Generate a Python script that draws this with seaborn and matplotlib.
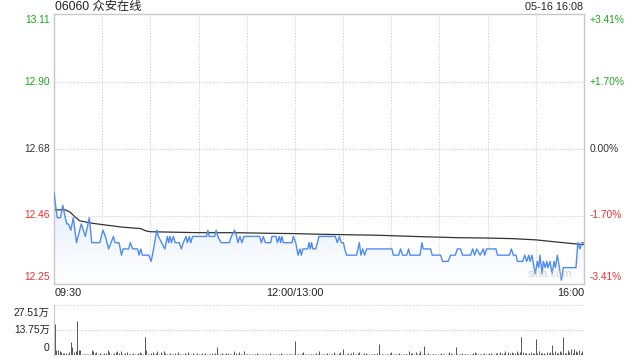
import numpy as np
import matplotlib
matplotlib.use("Agg")
import matplotlib.pyplot as plt
import seaborn as sns
from matplotlib.colors import LinearSegmentedColormap

# --------------------------------------------------------------
# Data
# --------------------------------------------------------------
title_left = "06060 众安在线"
title_right = "05-16 16:08"
prev_close = 12.68
pct_levels = [3.41, 1.70, 0.0, -1.70, -3.41]
price_labels = ["13.11", "12.90", "12.68", "12.46", "12.25"]
pct_labels = ["+3.41%", "+1.70%", "0.00%", "-1.70%", "-3.41%"]
label_colors = ["#1ba81b", "#1ba81b", "#333333", "#f23030", "#f23030"]
time_labels = ["09:30", "12:00/13:00", "16:00"]
time_label_pos = [0, 150, 330]
vol_ticks = [27.51, 13.75, 0]
vol_labels = ["27.51万", "13.75万", "0"]

# minutes since 09:30 (lunch break removed) / price
price_t = [0, 2, 4, 5.5, 7, 8, 9, 10.5, 12, 14, 17, 19.5, 22, 23.5, 28.5, 30.5,
           32, 34, 35.5, 37, 38, 40.5, 42, 43, 46.5, 47.5, 49, 52, 53, 54, 55,
           59, 60.5, 62, 64, 65, 67, 69, 70.6, 71.4, 72.2, 73.1, 74.3, 75.5, 78,
           79.3, 80.5, 82.2, 83, 84.3, 85.1, 86.3, 95, 95.8, 96.6, 100, 101, 102,
           104, 109.2, 110.4, 112.5, 113.7, 114.5, 115.8, 117, 118.3, 128, 129.1,
           130.3, 131.6, 134.9, 135.7, 138.2, 139.1, 140.3, 141.1, 141.9, 142.8,
           148.2, 149, 150.5, 152, 153.2, 154, 155, 158, 158.8, 159.6, 160.4,
           161.2, 163, 165, 175.2, 176.4, 177.7, 178.9, 180.2, 181, 182.2, 188.4,
           190.1, 191.1, 192.2, 193.4, 194.7, 210.4, 211.3, 214.6, 215.8, 217.1,
           219.6, 220.8, 221.7, 227.9, 229.1, 229.9, 234.5, 235.5, 240.7, 242,
           245.3, 247, 249.9, 251.1, 253.2, 254.4, 259.4, 260.7, 261.9, 263.2,
           265.3, 267.3, 268.1, 269.4, 275.2, 276.1, 283.5, 284.8, 286, 287.7,
           288.5, 291.8, 293.1, 294.3, 295.6, 296.4, 297.6, 298.9, 299.7, 300.9,
           301.8, 302.6, 303.9, 304.7, 305.9, 306.8, 307.6, 308.9, 310.1, 311.4,
           312.2, 313.4, 314.7, 315.9, 317.1, 325, 326.2, 327.5, 328.7, 330]
price = [12.54, 12.46, 12.46, 12.50, 12.46, 12.44, 12.44, 12.42, 12.46, 12.38,
         12.44, 12.40, 12.46, 12.38, 12.38, 12.42, 12.40, 12.36, 12.38, 12.40,
         12.38, 12.38, 12.34, 12.36, 12.36, 12.38, 12.36, 12.36, 12.34, 12.36,
         12.34, 12.34, 12.32, 12.36, 12.42, 12.40, 12.38, 12.36, 12.40, 12.38,
         12.40, 12.38, 12.40, 12.38, 12.38, 12.36, 12.38, 12.40, 12.38, 12.40,
         12.38, 12.40, 12.40, 12.42, 12.40, 12.40, 12.42, 12.40, 12.38, 12.38,
         12.40, 12.42, 12.40, 12.38, 12.40, 12.38, 12.40, 12.40, 12.38, 12.40,
         12.38, 12.38, 12.40, 12.40, 12.38, 12.40, 12.38, 12.40, 12.38, 12.38,
         12.40, 12.38, 12.34, 12.36, 12.34, 12.36, 12.36, 12.38, 12.36, 12.38,
         12.36, 12.36, 12.40, 12.40, 12.38, 12.40, 12.38, 12.38, 12.36, 12.34,
         12.34, 12.38, 12.34, 12.36, 12.34, 12.36, 12.36, 12.34, 12.34, 12.36,
         12.34, 12.34, 12.36, 12.34, 12.34, 12.38, 12.36, 12.36, 12.34, 12.34,
         12.32, 12.32, 12.34, 12.34, 12.36, 12.36, 12.34, 12.34, 12.36, 12.34,
         12.36, 12.34, 12.36, 12.34, 12.36, 12.36, 12.34, 12.34, 12.36, 12.34,
         12.34, 12.32, 12.32, 12.34, 12.32, 12.34, 12.32, 12.34, 12.30, 12.28,
         12.32, 12.30, 12.34, 12.28, 12.32, 12.30, 12.32, 12.30, 12.32, 12.28,
         12.32, 12.30, 12.34, 12.30, 12.26, 12.30, 12.30, 12.38, 12.36, 12.38,
         12.38]

avg_t = [0, 7, 10, 13, 16, 24, 42, 54, 57, 60, 90, 113, 134, 150, 165, 186,
         200, 230, 251, 268, 285, 300, 315, 327, 330]
avg_price = [12.485, 12.485, 12.478, 12.463, 12.450, 12.442, 12.430, 12.425,
             12.418, 12.415, 12.412, 12.412, 12.410, 12.409, 12.407, 12.405,
             12.404, 12.399, 12.396, 12.395, 12.393, 12.389, 12.381, 12.375,
             12.374]

# volume per minute, unit 万股 (minute 0 .. 330)
volume = [
    17.0, 2.8, 3.0, 2.4, 1.6, 1.2, 1.0, 1.3, 0.8, 1.6, 7.2, 4.2, 1.6, 2.0, 18.6,
    2.6, 3.0, 0.6, 0.5, 0.7, 0.6, 0.5, 0.8, 3.0, 2.0, 0.9, 1.5, 0.6, 1.0, 0.5,
    0.7, 0.9, 1.2, 3.0, 1.8, 0.8, 0.6, 1.0, 1.9, 2.1, 1.2, 2.0, 0.8, 0.5, 0.9,
    1.8, 0.6, 0.5, 0.7, 1.0, 0.6, 0.8, 1.3, 1.8, 0.9, 0.7, 9.8, 2.5, 0.8, 0.6,
    0.9, 1.6, 0.7, 1.0, 2.0, 0.8, 1.5, 0.6, 2.1, 0.9, 0.7, 0.5, 1.0, 0.8, 0.6,
    1.2, 0.7, 1.9, 0.8, 0.6, 0.5, 0.9, 0.7, 1.4, 0.6, 0.8, 1.1, 0.5, 0.7, 1.3,
    0.8, 0.6, 0.9, 0.5, 1.2, 0.7, 0.6, 0.8, 1.0, 0.6, 0.9, 4.2, 0.8, 0.6, 1.3,
    0.7, 0.5, 0.9, 1.1, 0.6, 0.8, 0.7, 2.2, 1.0, 0.6, 1.4, 0.8, 0.5, 2.0, 0.7,
    0.6, 0.5, 0.8, 0.6, 0.7, 0.5, 0.9, 0.6, 0.7, 0.5, 0.8, 0.6, 0.5, 0.7, 0.9,
    0.5, 0.6, 0.8, 0.5, 0.7, 0.6, 0.9, 0.5, 0.6, 0.8, 0.5, 0.7, 0.6, 0.5, 0.8,
    7.7, 0.8, 0.6, 0.5, 0.9, 1.6, 0.7, 0.5, 0.6, 0.8, 0.5, 0.7, 0.6, 0.9, 0.5,
    2.4, 0.8, 0.6, 0.5, 0.7, 0.9, 0.6, 0.5, 0.8, 1.8, 0.7, 0.6, 0.9, 1.4, 0.6,
    3.3, 0.8, 0.6, 0.9, 0.5, 1.0, 1.6, 0.7, 0.8, 1.2, 1.9, 0.7, 0.6, 1.1, 0.9,
    0.6, 0.5, 0.7, 0.8, 0.6, 0.5, 0.9, 6.2, 0.7, 0.6, 0.8, 0.5, 0.7, 0.6, 0.9,
    1.7, 0.6, 0.8, 0.5, 0.7, 0.9, 0.6, 0.5, 0.8, 0.6, 0.7, 2.3, 0.9, 1.0, 0.6,
    1.6, 0.8, 1.2, 2.2, 0.7, 4.9, 0.8, 0.6, 0.9, 0.5, 0.7, 0.6, 0.8, 0.5, 0.6,
    0.7, 0.9, 0.5, 0.6, 0.8, 0.7, 1.9, 1.1, 0.6, 0.8, 4.2, 0.7, 0.5, 0.6, 0.9,
    0.5, 0.7, 0.6, 0.8, 0.5, 0.6, 0.9, 1.9, 1.0, 0.6, 0.8, 0.5, 0.7, 1.0, 0.6,
    0.8, 0.9, 1.1, 0.6, 0.7, 0.9, 1.0, 0.8, 1.4, 0.9, 1.2, 2.1, 0.8, 1.5, 1.0,
    1.8, 1.2, 0.9, 2.0, 1.1, 1.6, 10.0, 1.4, 0.9, 1.2, 0.8, 1.0, 1.6, 0.9, 1.3,
    8.6, 1.2, 2.2, 1.0, 0.9, 1.3, 0.8, 1.6, 1.0, 1.4, 5.4, 1.1, 2.0, 1.3, 1.0,
    2.4, 1.6, 10.0, 1.2, 0.9, 2.8, 1.4, 3.5, 1.0, 3.5, 2.1, 1.5, 3.0, 1.2, 2.0,
    27.51]

# --------------------------------------------------------------
# Style
# --------------------------------------------------------------
sns.set_style("white")
plt.rcParams["font.family"] = ["Liberation Sans", "Noto Sans CJK SC", "DejaVu Sans"]

LINE_BLUE = "#4f8cf0"
GRID = "#cfcfcf"
FRAME = "#c8c8c8"
T_MAX = 330

levels = [prev_close * (1 + p / 100) for p in pct_levels]
y_top, y_bot = levels[0], levels[-1]

fig = plt.figure(figsize=(6.4, 3.6), dpi=100)
ax = fig.add_axes([54 / 640, 1 - 284 / 360, 530 / 640, 270 / 360])
axv = fig.add_axes([54 / 640, 1 - 355 / 360, 530 / 640, 50 / 360])

# --------------------------------------------------------------
# Price panel
# --------------------------------------------------------------
# light blue gradient under the price line
poly = ax.fill_between(price_t, price, y_bot, color="none", lw=0)
cmap = LinearSegmentedColormap.from_list("fade", ["#ffffff", "#e4edfc"])
grad = np.linspace(0, 1, 256).reshape(-1, 1)
img = ax.imshow(grad, extent=[0, T_MAX, y_bot, max(price)], origin="lower",
                aspect="auto", cmap=cmap, zorder=1)
img.set_clip_path(poly.get_paths()[0], transform=ax.transData)

sns.lineplot(x=price_t, y=price, ax=ax, color=LINE_BLUE, linewidth=1.0,
             estimator=None, sort=False, zorder=3)
sns.lineplot(x=avg_t, y=avg_price, ax=ax, color="#333333", linewidth=0.9,
             estimator=None, sort=False, zorder=2)

ax.set_xlim(0, T_MAX)
ax.set_ylim(y_bot, y_top)
ax.set_xticks([])
ax.set_yticks([])
ax.set_xlabel("")
ax.set_ylabel("")

for x in range(30, T_MAX, 30):
    ax.axvline(x, color=GRID, lw=0.8, ls=(0, (1, 1.5)), zorder=0)
for y in levels[1:-1]:
    ax.axhline(y, color=GRID, lw=0.8, ls=(0, (1, 1.5)), zorder=0)
for s in ax.spines.values():
    s.set_color(FRAME)
    s.set_linewidth(1.0)

# price / percent labels
v_offsets = [-4.3, 0, 0, 0.8, 5.0]
for lev, lab, pct, col, dv in zip(levels, price_labels, pct_labels, label_colors, v_offsets):
    ax.annotate(lab, xy=(0, lev), xycoords=("axes fraction", "data"),
                xytext=(-3, dv), textcoords="offset points",
                ha="right", va="center", fontsize=7.4, color=col)
    ax.annotate(pct, xy=(1, lev), xycoords=("axes fraction", "data"),
                xytext=(4.3, dv), textcoords="offset points",
                ha="left", va="center", fontsize=7.4, color=col)

# time labels
aligns = ["left", "center", "right"]
for pos, lab, ha in zip(time_label_pos, time_labels, aligns):
    ax.annotate(lab, xy=(pos, 0), xycoords=("data", "axes fraction"),
                xytext=(0.7 if ha == "left" else 0, -6.8), textcoords="offset points",
                ha=ha, va="center", fontsize=7.8, color="#222222")

ax.text(0.935, 0.02, "sina.com", transform=ax.transAxes, ha="center", va="bottom",
        fontsize=8, color="#d6d6d6", zorder=4)

fig.text(55 / 640, 1 - 7 / 360, title_left, ha="left", va="center",
         fontsize=8.8, color="#222222")
fig.text(583 / 640, 1 - 7 / 360, title_right, ha="right", va="center",
         fontsize=7.8, color="#222222")

# --------------------------------------------------------------
# Volume panel
# --------------------------------------------------------------
minutes = np.arange(len(volume))
axv.vlines(minutes + 0.5, 0, volume, colors="#555555", linewidth=0.7)
axv.set_xlim(0, T_MAX + 0.6)
axv.set_ylim(0, vol_ticks[0])
axv.set_xticks([])
axv.set_yticks([])
for y in vol_ticks[:2]:
    axv.axhline(y, color=GRID, lw=0.8, ls=(0, (1, 1.5)), zorder=0)
for name, s in axv.spines.items():
    s.set_visible(name == "left")
    s.set_color(FRAME)

vol_offsets = [-5.8, 0, 5.0]
for val, lab, dv in zip(vol_ticks, vol_labels, vol_offsets):
    axv.annotate(lab, xy=(0, val), xycoords=("axes fraction", "data"),
                 xytext=(-3, dv), textcoords="offset points",
                 ha="right", va="center", fontsize=7.4, color="#222222")

fig.savefig("out.png", dpi=100)
